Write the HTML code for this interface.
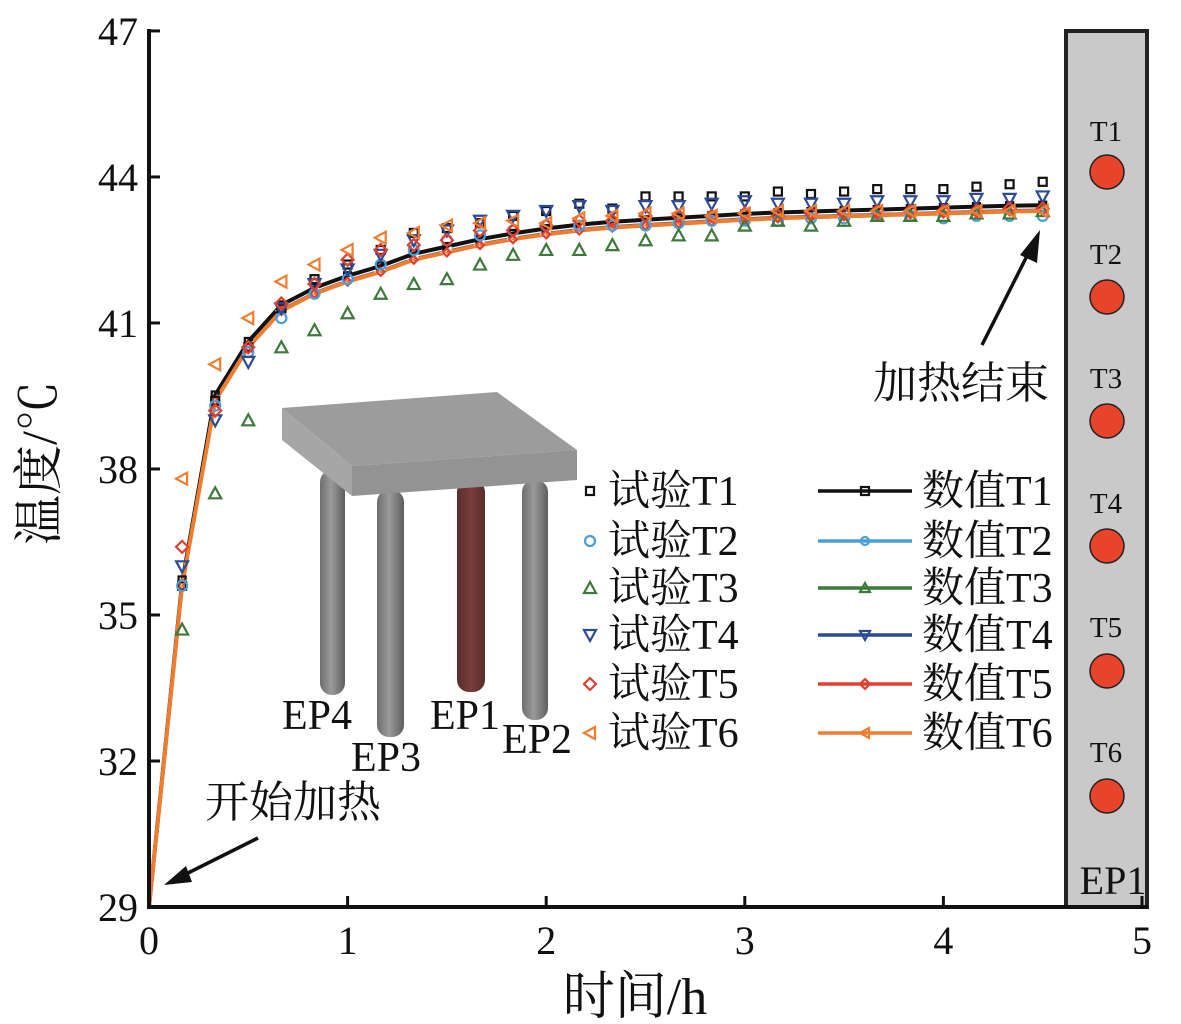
<!DOCTYPE html>
<html><head><meta charset="utf-8"><style>
html,body{margin:0;padding:0;background:#fff;}
svg{display:block;font-family:"Liberation Serif","Noto Serif CJK SC",serif;}
</style></head><body>
<svg id="s" width="1181" height="1024" viewBox="0 0 1181 1024" xmlns="http://www.w3.org/2000/svg">
<defs>
<linearGradient id="pg" x1="0" x2="1"><stop offset="0" stop-color="#6e6e6e"/><stop offset="0.45" stop-color="#9a9a9a"/><stop offset="1" stop-color="#5e5e5e"/></linearGradient>
<linearGradient id="rg" x1="0" x2="1"><stop offset="0" stop-color="#5a2e2e"/><stop offset="0.5" stop-color="#7a3c3c"/><stop offset="1" stop-color="#5a2e2e"/></linearGradient>
</defs>
<rect x="1066" y="31" width="81" height="876" fill="#c9c9c9" stroke="#222" stroke-width="4"/>
<g fill="#e8432b" stroke="#222" stroke-width="1.5">
<circle cx="1107" cy="172" r="17"/><circle cx="1107" cy="297" r="17"/><circle cx="1107" cy="421" r="17"/>
<circle cx="1107" cy="546" r="17"/><circle cx="1107" cy="671" r="17"/><circle cx="1107" cy="796" r="17"/>
</g>
<g font-size="29" text-anchor="middle" fill="#111">
<text x="1106" y="141">T1</text><text x="1106" y="264">T2</text><text x="1106" y="388">T3</text>
<text x="1106" y="513">T4</text><text x="1106" y="637">T5</text><text x="1106" y="762">T6</text>
</g>
<text x="1113" y="894" font-size="40" text-anchor="middle" fill="#111">EP1</text>
<rect x="320" y="470" width="25" height="225" rx="12" fill="url(#pg)"/>
<rect x="377" y="490" width="27" height="247" rx="12" fill="url(#pg)"/>
<rect x="457" y="480" width="28" height="212" rx="12" fill="url(#rg)"/>
<rect x="522" y="480" width="26" height="240" rx="12" fill="url(#pg)"/>
<polygon points="282,408 497,392 577,450 352,466" fill="#9c9c9c"/>
<polygon points="282,408 352,466 352,496 282,440" fill="#a6a6a6"/>
<polygon points="352,466 577,450 577,480 352,496" fill="#939393"/>
<g font-size="42" fill="#111">
<text x="282" y="729">EP4</text><text x="351" y="771">EP3</text><text x="430" y="729">EP1</text><text x="502" y="753">EP2</text>
</g>
<g id="plot"></g>
<g stroke="#111" stroke-width="4" fill="none">
<line x1="149" y1="29" x2="149" y2="909"/>
<line x1="147" y1="907" x2="1148" y2="907"/>
</g>
<g stroke="#111" stroke-width="3" id="ticks"></g>
<g font-size="40" fill="#111" id="tl"></g>
<text x="635" y="1014" font-size="52" text-anchor="middle" fill="#111">时间/h</text>
<text transform="translate(56,463) rotate(-90)" font-size="50" text-anchor="middle" fill="#111">温度/℃</text>
<text x="205" y="817" font-size="44" fill="#111">开始加热</text>
<line x1="258" y1="838" x2="180" y2="877" stroke="#111" stroke-width="3.5"/>
<polygon points="164,885 186,866 192,882" fill="#111"/>
<text x="873" y="398" font-size="44" fill="#111">加热结束</text>
<line x1="982" y1="345" x2="1030" y2="250" stroke="#111" stroke-width="3.5"/>
<polygon points="1040,230 1020,255 1037,263" fill="#111"/>
<g id="leg" font-size="42" fill="#111"></g>
</svg>
<script>
var NS="http://www.w3.org/2000/svg";
function X(t){return 149+t*198.6;}
function Y(v){return 907-(v-29)*48.67;}
function el(p,tag,a,txt){var e=document.createElementNS(NS,tag);for(var k in a)e.setAttribute(k,a[k]);if(txt)e.textContent=txt;p.appendChild(e);return e;}
var ticks=document.getElementById('ticks'),tl=document.getElementById('tl');
for(var i=0;i<=5;i++){el(ticks,'line',{x1:X(i),y1:907,x2:X(i),y2:896});el(tl,'text',{x:X(i),y:954,'text-anchor':'middle'},''+i);}
var yl=[29,32,35,38,41,44,47];
for(var i=0;i<yl.length;i++){el(ticks,'line',{x1:149,y1:Y(yl[i]),x2:160,y2:Y(yl[i])});el(tl,'text',{x:138,y:Y(yl[i])+14,'text-anchor':'end'},''+yl[i]);}
var num=[29,35.6,39.4,40.5,41.25,41.6,41.85,42.05,42.3,42.45,42.6,42.72,42.82,42.9,42.96,43.0,43.04,43.08,43.12,43.15,43.17,43.19,43.21,43.23,43.25,43.27,43.29,43.3];
function curve(off,col,w){var d='M'+X(0)+','+Y(29);
 for(var k=1;k<=27;k++){var v=num[k]+off*(k>1?1:0.5);d+=' L'+X(k/6).toFixed(1)+','+Y(v).toFixed(1);}
 el(document.getElementById('plot'),'path',{d:d,fill:'none',stroke:col,'stroke-width':w,'stroke-linejoin':'round'});}
var cols=['#111','#4a9fd8','#3d7a3a','#2d4a94','#e04030','#ef7d30'];
function mk(p,type,x,y,c,s){s=s||5;var a={fill:'none',stroke:c,'stroke-width':2.2};
 if(type==0){a.x=x-s;a.y=y-s;a.width=2*s;a.height=2*s;el(p,'rect',a);}
 else if(type==1){a.cx=x;a.cy=y;a.r=s;el(p,'circle',a);}
 else if(type==2){a.points=(x)+','+(y-s-1)+' '+(x-s-1)+','+(y+s)+' '+(x+s+1)+','+(y+s);el(p,'polygon',a);}
 else if(type==3){a.points=(x)+','+(y+s+1)+' '+(x-s-1)+','+(y-s)+' '+(x+s+1)+','+(y-s);el(p,'polygon',a);}
 else if(type==4){a.points=x+','+(y-s-1)+' '+(x+s+1)+','+y+' '+x+','+(y+s+1)+' '+(x-s-1)+','+y;el(p,'polygon',a);}
 else {a.points=(x-s-1)+','+y+' '+(x+s)+','+(y-s-1)+' '+(x+s)+','+(y+s+1);el(p,'polygon',a);}}
var P=document.getElementById('plot');
curve(0.12,'#111',4);curve(0.0,'#4a9fd8',3);curve(0.0,'#3d7a3a',3);curve(0.02,'#2d4a94',3);curve(0.01,'#e04030',3);curve(0,'#ef7d30',4);
for(var k=1;k<=27;k++){mk(P,0,X(k/6),Y(num[k]+0.12),'#111',3.5);mk(P,5,X(k/6),Y(num[k]),'#fff',3.5);mk(P,4,X(k/6),Y(num[k]),'#e04030',3);}
var e1=[0,35.6,39.4,40.5,41.3,41.9,42.2,42.5,42.85,42.95,43.05,43.2,43.3,43.45,43.35,43.6,43.6,43.6,43.6,43.7,43.65,43.7,43.75,43.75,43.75,43.8,43.85,43.9];
var e2=[0,35.6,39.3,40.4,41.1,41.6,41.9,42.2,42.5,42.7,42.8,42.9,43.0,43.0,43.0,43.0,43.05,43.1,43.1,43.1,43.15,43.15,43.2,43.2,43.15,43.2,43.2,43.2];
var e3=[0,34.7,37.5,39.0,40.5,40.85,41.2,41.6,41.8,41.9,42.2,42.4,42.5,42.5,42.6,42.7,42.8,42.8,43.0,43.1,43.0,43.1,43.2,43.2,43.2,43.25,43.25,43.3];
var e4=[0,36.0,39.0,40.2,41.3,41.8,42.1,42.4,42.7,42.9,43.1,43.2,43.3,43.4,43.3,43.4,43.4,43.45,43.5,43.45,43.45,43.45,43.5,43.5,43.5,43.55,43.55,43.6];
var e5=[0,36.4,39.2,40.5,41.4,41.8,42.3,42.5,42.6,42.7,42.9,42.9,43.0,43.1,43.1,43.2,43.2,43.2,43.25,43.2,43.25,43.25,43.3,43.3,43.3,43.3,43.35,43.35];
var e6=[0,37.8,40.15,41.1,41.85,42.2,42.5,42.75,42.85,43.0,43.05,43.1,43.05,43.15,43.2,43.25,43.25,43.2,43.25,43.3,43.3,43.3,43.3,43.3,43.3,43.3,43.3,43.3];
var E=[e1,e2,e3,e4,e5,e6];
for(var s=0;s<6;s++)for(var k=1;k<=27;k++)mk(P,s,X(k/6),Y(E[s][k]),cols[s],s==0?4:5);
var L=document.getElementById('leg');var ly=[493,543,590,637,686,735];
for(var i=0;i<6;i++){mk(L,i,590,ly[i]-2,cols[i],i==0?4:5);
 el(L,'text',{x:608,y:ly[i]+12},'试验T'+(i+1));
 el(L,'line',{x1:818,y1:ly[i]-2,x2:912,y2:ly[i]-2,stroke:cols[i],'stroke-width':3.5});
 mk(L,i,865,ly[i]-2,cols[i],4);
 el(L,'text',{x:922,y:ly[i]+12},'数值T'+(i+1));}
</script>
</body></html>
